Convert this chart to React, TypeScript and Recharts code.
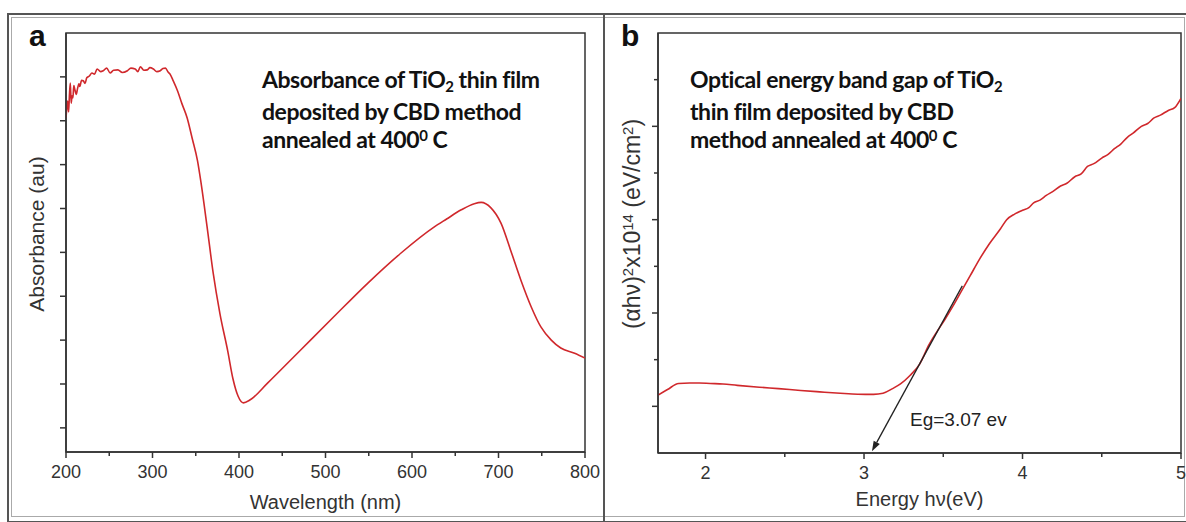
import React from 'react';
import { LineChart, Line, XAxis, YAxis, ReferenceArea, ReferenceLine } from 'recharts';

// panel a: absorbance spectrum
const wavelengthNm = [
  200, 201, 202, 203, 204, 205, 206, 207, 208, 209, 210, 212, 213, 215, 216, 218, 220, 222, 224, 227,
  230, 233, 236, 240, 243, 247, 251, 255, 260, 265, 271, 275, 280, 283, 286, 290, 294, 297, 301, 305,
  309, 312, 315, 318, 320, 324, 329, 334, 340, 346, 352, 356, 363, 370, 378, 387, 393, 399, 405, 413,
  433, 471, 509, 549, 587, 625, 640, 657, 672, 680, 691, 703, 714, 726, 738, 749, 761, 772, 788, 800,
];
const absorbanceAu = [
  7.07, 7.3, 7.45, 7.2, 7.6, 7.86, 7.4, 7.57, 7.52, 7.8, 7.73, 7.6, 7.7, 7.84, 7.78, 7.92, 7.91, 7.85, 7.98, 8.02,
  8.09, 8.06, 8.18, 8.12, 8.14, 8.2, 8.09, 8.15, 8.16, 8.1, 8.14, 8.2, 8.18, 8.12, 8.23, 8.15, 8.16, 8.21, 8.18, 8.12,
  8.14, 8.19, 8.2, 8.11, 8.07, 7.91, 7.68, 7.39, 7.07, 6.59, 6.09, 5.6, 4.6, 3.55, 2.6, 1.75, 1.12, 0.72, 0.57, 0.64,
  1.02, 1.77, 2.52, 3.3, 3.98, 4.57, 4.76, 4.97, 5.11, 5.14, 5.02, 4.66, 4.05, 3.36, 2.75, 2.3, 2.0, 1.82, 1.7, 1.59,
];
const waveMajorTicks = [200, 300, 400, 500, 600, 700, 800];
const waveMinorTicks = [250, 350, 450, 550, 650, 750];
const absorbanceTicks = [0, 1, 2, 3, 4, 5, 6, 7, 8];

// panel b: Tauc plot
const energyEv = [
  1.7, 1.76, 1.83, 1.9, 1.96, 2.03, 2.11, 2.2, 2.34, 2.46, 2.6, 2.72, 2.85, 2.96, 3.06, 3.12, 3.18, 3.23, 3.29, 3.35,
  3.41, 3.46, 3.51, 3.56, 3.61, 3.67, 3.73, 3.79, 3.86, 3.9, 3.95, 4.0, 4.04, 4.07, 4.11, 4.15, 4.19, 4.24, 4.28, 4.33,
  4.37, 4.41, 4.45, 4.5, 4.54, 4.58, 4.62, 4.66, 4.7, 4.75, 4.79, 4.83, 4.87, 4.92, 4.96, 5.0,
];
const bandGapSignal = [
  0.12, 0.18, 0.245, 0.25, 0.25, 0.245, 0.24, 0.225, 0.205, 0.19, 0.17, 0.155, 0.14, 0.13, 0.128, 0.14, 0.19, 0.24, 0.33, 0.45,
  0.66, 0.8, 0.93, 1.07, 1.22, 1.4, 1.58, 1.74, 1.9, 2.0, 2.06, 2.1, 2.13, 2.18, 2.21, 2.26, 2.3, 2.36, 2.39, 2.46,
  2.49, 2.57, 2.6, 2.66, 2.7, 2.76, 2.81, 2.88, 2.93, 3.0, 3.03, 3.09, 3.12, 3.17, 3.2, 3.3,
];
const energyMajorTicks = [2, 3, 4, 5];
const energyMinorTicks = [2.5, 3.5, 4.5];
const bandGapMajorTicks = [0, 1, 2, 3];
const bandGapMinorTicks = [0.5, 1.5, 2.5, 3.5];
const tangentTop = { x: 3.62, y: 1.29 };
const tangentTip = { x: 3.05, y: -0.48 };

const absorbanceData = wavelengthNm.map((w, i) => ({ w, a: absorbanceAu[i] }));
const bandGapData = energyEv.map((e, i) => ({ e, s: bandGapSignal[i] }));

const AXIS = '#333';
const CURVE = '#d0282c';
const SANS = "'Liberation Sans', Arial, sans-serif";
const NOTE_FONT = "Lato, 'Open Sans', sans-serif";

const bottomTick = (majors: number[]) => (props: any) => {
  const { x, y, payload } = props;
  const major = majors.includes(payload.value);
  return (
    <g>
      <line x1={x} y1={y} x2={x} y2={y + (major ? 6 : 4)} stroke={AXIS} strokeWidth={1.5} />
      {major && (
        <text x={x} y={y + 13} dy="0.71em" textAnchor="middle" fill="#333" fontSize={18} fontFamily={SANS}>
          {payload.value}
        </text>
      )}
    </g>
  );
};

const leftTick = (majors: number[] | null) => (props: any) => {
  const { x, y, payload } = props;
  const len = !majors || majors.includes(payload.value) ? 6 : 4;
  return <line x1={x - len} y1={y} x2={x} y2={y} stroke={AXIS} strokeWidth={1.5} />;
};

// tangent line with a filled arrow head at the axis end
const ArrowSegment = (props: any) => {
  const { x1, y1, x2, y2 } = props;
  const ang = Math.atan2(y2 - y1, x2 - x1);
  const bx = x2 - 10 * Math.cos(ang);
  const by = y2 - 10 * Math.sin(ang);
  const px = -Math.sin(ang) * 3.5;
  const py = Math.cos(ang) * 3.5;
  return (
    <g>
      <line x1={x1} y1={y1} x2={bx} y2={by} stroke="#222" strokeWidth={1.3} />
      <polygon points={`${x2},${y2} ${bx + px},${by + py} ${bx - px},${by - py}`} fill="#222" />
    </g>
  );
};

const noteStyle: React.CSSProperties = {
  position: 'absolute',
  top: 65,
  fontFamily: NOTE_FONT,
  fontWeight: 700,
  fontSize: 23,
  lineHeight: '28.5px',
  letterSpacing: -0.45,
  color: '#111',
  whiteSpace: 'nowrap',
};

const letterStyle: React.CSSProperties = {
  position: 'absolute',
  top: 21,
  fontFamily: SANS,
  fontWeight: 700,
  fontSize: 30,
  lineHeight: '30px',
  color: '#111',
};

const yTitleStyle: React.CSSProperties = {
  position: 'absolute',
  transform: 'translate(-50%, -50%) rotate(-90deg)',
  fontFamily: SANS,
  fontSize: 21,
  lineHeight: '24px',
  color: '#333',
  whiteSpace: 'nowrap',
};

// sub/superscripts that do not stretch the line box
const sub: React.CSSProperties = { fontSize: '0.65em', position: 'relative', top: '0.25em' };
const sup: React.CSSProperties = { fontSize: '0.65em', position: 'relative', top: '-0.5em' };

export default function App() {
  return (
    <div style={{ position: 'relative', width: 1186, height: 522, background: '#fff', overflow: 'hidden' }}>
      <style>{'body{margin:0}'}</style>
      {/* figure frame */}
      <div style={{ position: 'absolute', left: 7, top: 13, width: 1180, height: 506, border: '2px solid #555' }} />
      <div style={{ position: 'absolute', left: 11, top: 17, width: 1172, height: 498, border: '1px solid #aaa' }} />
      <div style={{ position: 'absolute', left: 603, top: 13, width: 2, height: 508, background: '#555' }} />

      <div style={{ position: 'absolute', left: 0, top: 0 }}>
        <LineChart width={600} height={522} data={absorbanceData} margin={{ top: 33, right: 15, bottom: 0, left: 0 }}>
          <XAxis
            type="number"
            dataKey="w"
            domain={[200, 800]}
            ticks={[...waveMajorTicks, ...waveMinorTicks]}
            interval={0}
            tick={bottomTick(waveMajorTicks)}
            tickLine={false}
            tickSize={0}
            tickMargin={0}
            height={70}
            axisLine={{ stroke: AXIS, strokeWidth: 1.5 }}
            allowDataOverflow
            label={{ value: 'Wavelength (nm)', position: 'insideBottom', offset: 13, fill: '#333', fontSize: 20, fontFamily: SANS }}
          />
          <YAxis
            type="number"
            domain={[-0.55, 9]}
            ticks={absorbanceTicks}
            interval={0}
            tick={leftTick(null)}
            tickLine={false}
            tickSize={0}
            tickMargin={0}
            width={66}
            axisLine={{ stroke: AXIS, strokeWidth: 1.5 }}
            allowDataOverflow
          />
          <ReferenceArea x1={200} x2={800} y1={-0.55} y2={9} fill="none" stroke={AXIS} strokeWidth={1.5} />
          <Line type="monotone" dataKey="a" stroke={CURVE} strokeWidth={1.6} dot={false} isAnimationActive={false} />
        </LineChart>
      </div>

      <div style={{ position: 'absolute', left: 600, top: 0 }}>
        <LineChart width={586} height={522} data={bandGapData} margin={{ top: 33, right: 5, bottom: 0, left: 0 }}>
          <XAxis
            type="number"
            dataKey="e"
            domain={[1.7, 5]}
            ticks={[...energyMajorTicks, ...energyMinorTicks]}
            interval={0}
            tick={bottomTick(energyMajorTicks)}
            tickLine={false}
            tickSize={0}
            tickMargin={0}
            height={69}
            axisLine={{ stroke: AXIS, strokeWidth: 1.5 }}
            allowDataOverflow
            label={{ value: 'Energy hν(eV)', position: 'insideBottom', offset: 16, fill: '#333', fontSize: 20, fontFamily: SANS }}
          />
          <YAxis
            type="number"
            domain={[-0.5, 4]}
            ticks={[...bandGapMajorTicks, ...bandGapMinorTicks]}
            interval={0}
            tick={leftTick(bandGapMajorTicks)}
            tickLine={false}
            tickSize={0}
            tickMargin={0}
            width={58}
            axisLine={{ stroke: AXIS, strokeWidth: 1.5 }}
            allowDataOverflow
          />
          <ReferenceArea x1={1.7} x2={5} y1={-0.5} y2={4} fill="none" stroke={AXIS} strokeWidth={1.5} />
          <Line type="monotone" dataKey="s" stroke={CURVE} strokeWidth={1.6} dot={false} isAnimationActive={false} />
          <ReferenceLine segment={[tangentTop, tangentTip]} shape={ArrowSegment} />
        </LineChart>
      </div>

      {/* panel letters, titles and notes */}
      <div style={{ ...letterStyle, left: 29 }}>a</div>
      <div style={{ ...letterStyle, left: 621 }}>b</div>

      <div style={{ ...yTitleStyle, left: 37, top: 234 }}>Absorbance (au)</div>
      <div style={{ ...yTitleStyle, left: 633, top: 224, fontSize: 23 }}>
        (αhν)<span style={sup}>2</span>x10<span style={sup}>14</span> (eV/cm<span style={sup}>2</span>)
      </div>

      <div style={{ ...noteStyle, left: 262 }}>
        Absorbance of TiO<span style={sub}>2</span> thin film
        <br />
        deposited by CBD method
        <br />
        annealed at 400<span style={sup}>0</span> C
      </div>
      <div style={{ ...noteStyle, left: 690 }}>
        Optical energy band gap of TiO<span style={sub}>2</span>
        <br />
        thin film deposited by CBD
        <br />
        method annealed at 400<span style={sup}>0</span> C
      </div>

      <div style={{ position: 'absolute', left: 910, top: 410, fontFamily: SANS, fontSize: 19, lineHeight: '20px', color: '#222' }}>
        Eg=3.07 ev
      </div>
    </div>
  );
}
